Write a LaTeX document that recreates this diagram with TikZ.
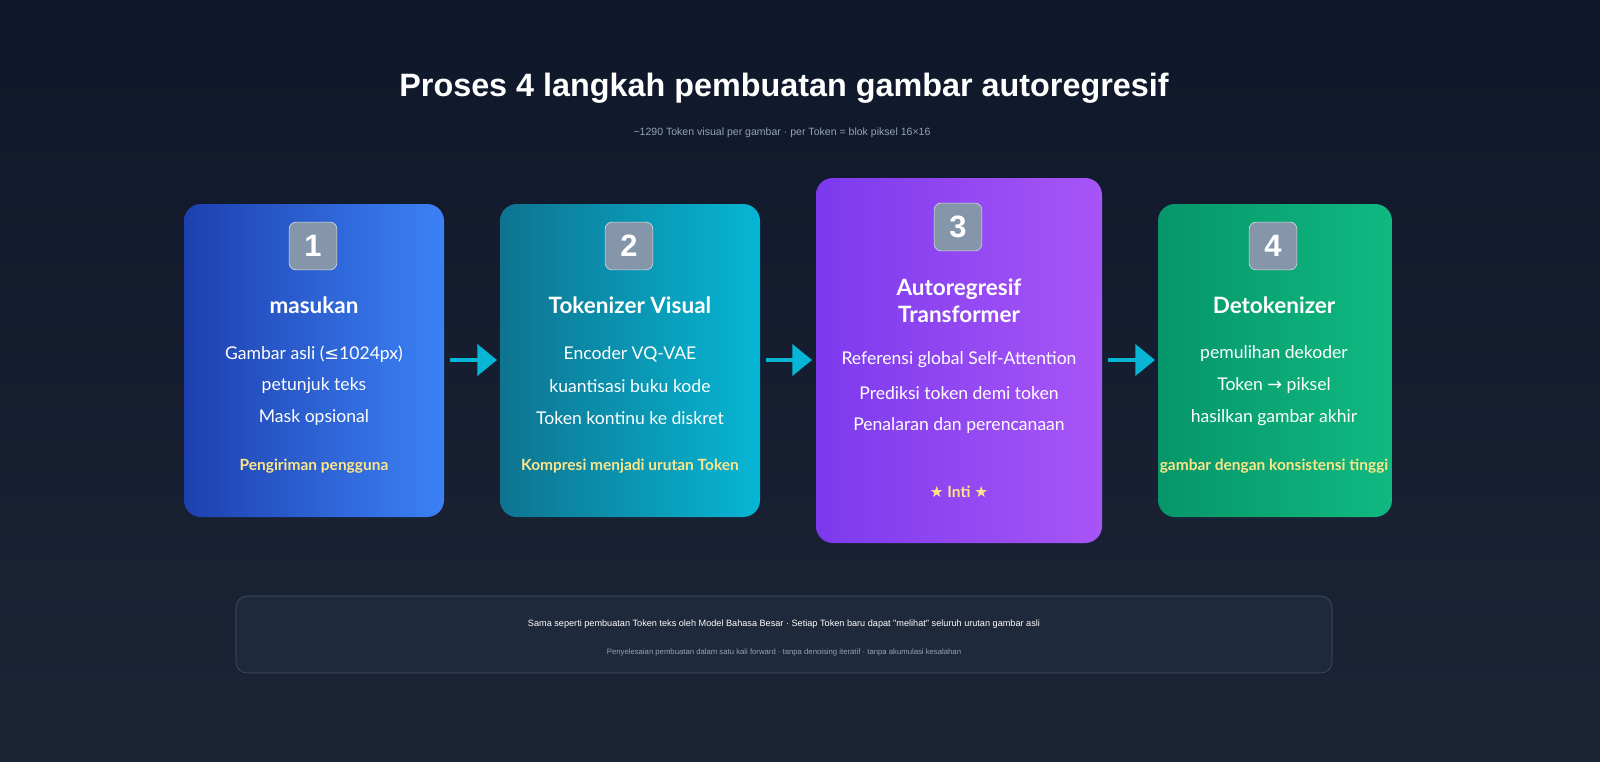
\documentclass[tikz,border=0pt]{standalone}
\usepackage{fontspec}
\setmainfont{Lato}
\newfontfamily\titlefont{Liberation Sans}
\newfontfamily\symfont{DejaVu Sans}
\usetikzlibrary{positioning}
\definecolor{bgA}{HTML}{0F172A}
\definecolor{bgB}{HTML}{1C2536}
\definecolor{blueA}{HTML}{1E40AF}
\definecolor{blueB}{HTML}{3B82F6}
\definecolor{cyanA}{HTML}{0E7490}
\definecolor{cyanB}{HTML}{06B6D4}
\definecolor{violetA}{HTML}{7C3AED}
\definecolor{violetB}{HTML}{A855F7}
\definecolor{greenA}{HTML}{059669}
\definecolor{greenB}{HTML}{10B981}
\definecolor{badge}{HTML}{8595AA}
\definecolor{note}{HTML}{FDE68A}
\definecolor{panel}{HTML}{1E293B}
\definecolor{panelline}{HTML}{475569}
\definecolor{subgrey}{HTML}{94A3B8}
\tikzset{
  card/.style={rounded corners=12pt, shading angle=135},
  numbadge/.style={rectangle, rounded corners=5pt, fill=badge, draw=white!70!badge,
    minimum size=34pt, text=white, font=\titlefont\bfseries\fontsize{22}{22}\selectfont},
  cardtitle/.style={text=white, font=\bfseries\fontsize{16}{19}\selectfont, align=center},
  cardline/.style={text=white, font=\fontsize{12.5}{14}\selectfont},
  cardnote/.style={text=note, font=\bfseries\fontsize{11}{14}\selectfont},
  flow/.style={draw=cyanB, line width=3pt, -{Triangle[length=14pt,width=22pt]}}
}
\usetikzlibrary{arrows.meta}
\begin{document}
\begin{tikzpicture}[x=0.025cm,y=-0.025cm]
%% background
\shade[top color=bgA, bottom color=bgB] (0,0) rectangle (1600,762);
\useasboundingbox (0,0) rectangle (1600,762);

%% heading
\node[text=white, font=\titlefont\bfseries\fontsize{23}{26}\selectfont] (title) at (784,88) {Proses 4 langkah pembuatan gambar autoregresif};
\node[text=subgrey, font=\titlefont\fontsize{7.5}{10}\selectfont] (subtitle) at (782,133) {\textasciitilde1290 Token visual per gambar · per Token = blok piksel 16×16};

%% cards
\shade[card, left color=blueA, right color=blueB] (184,204) rectangle (444,517);
\shade[card, left color=cyanA, right color=cyanB] (500,204) rectangle (760,517);
\shade[card, left color=violetA, right color=violetB] (816,178) rectangle (1102,543);
\shade[card, left color=greenA, right color=greenB] (1158,204) rectangle (1392,517);

%% step 1
\node[numbadge] (badgeone) at (313,246) {1};
\node[cardtitle] (inputtitle) at (314,305) {masukan};
\node[cardline] (inputa) at (314,354) {Gambar asli ({\symfont ≤}1024px)};
\node[cardline] (inputb) at (314,386) {petunjuk teks};
\node[cardline] (inputc) at (314,418) {Mask opsional};
\node[cardnote] (inputnote) at (314,466) {Pengiriman pengguna};

%% step 2
\node[numbadge] (badgetwo) at (629,246) {2};
\node[cardtitle] (toktitle) at (630,305) {Tokenizer Visual};
\node[cardline] (toka) at (630,354) {Encoder VQ-VAE};
\node[cardline] (tokb) at (630,386) {kuantisasi buku kode};
\node[cardline] (tokc) at (630,418) {Token kontinu ke diskret};
\node[cardnote] (toknote) at (630,466) {Kompresi menjadi urutan Token};

%% step 3
\node[numbadge] (badgethree) at (958,227) {3};
\node[cardtitle] (artitle) at (959,301) {Autoregresif\\Transformer};
\node[cardline] (ara) at (959,360) {Referensi global Self-Attention};
\node[cardline] (arb) at (959,393) {Prediksi token demi token};
\node[cardline] (arc) at (959,426) {Penalaran dan perencanaan};
\node[cardnote] (arnote) at (959,492) {{\symfont ★} Inti {\symfont ★}};

%% step 4
\node[numbadge] (badgefour) at (1273,246) {4};
\node[cardtitle] (dettitle) at (1274,305) {Detokenizer};
\node[cardline] (deta) at (1274,354) {pemulihan dekoder};
\node[cardline] (detb) at (1274,386) {Token {\symfont →} piksel};
\node[cardline] (detc) at (1274,418) {hasilkan gambar akhir};
\node[cardnote] (detnote) at (1274,466) {gambar dengan konsistensi tinggi};

%% arrows between cards
\coordinate (oneout) at (450,360);
\coordinate (twoin) at (497,360);
\coordinate (twoout) at (766,360);
\coordinate (threein) at (812,360);
\coordinate (threeout) at (1108,360);
\coordinate (fourin) at (1155,360);
\draw[flow] (oneout) -- (twoin);
\draw[flow] (twoout) -- (threein);
\draw[flow] (threeout) -- (fourin);

%% footer panel
\draw[fill=panel, draw=panelline, rounded corners=8pt] (236,596) rectangle (1332,673);
\node[text=white, font=\titlefont\fontsize{6.5}{9}\selectfont] (footera) at (784,624) {Sama seperti pembuatan Token teks oleh Model Bahasa Besar · Setiap Token baru dapat "melihat" seluruh urutan gambar asli};
\node[text=subgrey, font=\titlefont\fontsize{5.5}{8}\selectfont] (footerb) at (784,652) {Penyelesaian pembuatan dalam satu kali forward · tanpa denoising iteratif · tanpa akumulasi kesalahan};
\end{tikzpicture}
\end{document}
